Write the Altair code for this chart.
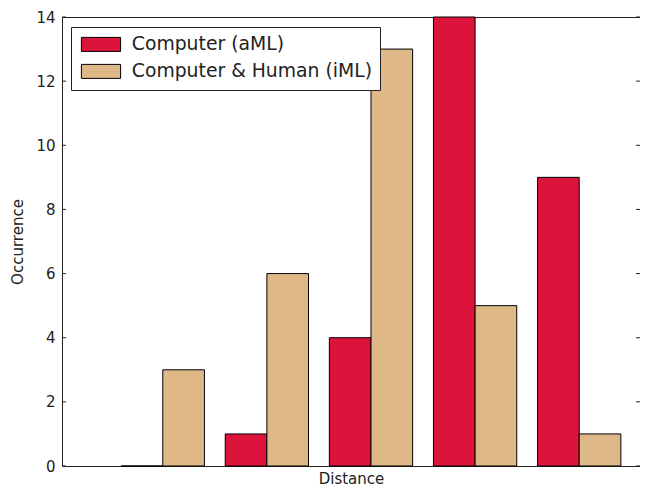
import altair as alt
import pandas as pd

groups = [0, 1, 2, 3, 4]
series_names = ["Computer (aML)", "Computer & Human (iML)"]
aml_values = [0, 1, 4, 14, 9]
iml_values = [3, 6, 13, 5, 1]
y_ticks = [0, 2, 4, 6, 8, 10, 12, 14]
colors = ["#DC143C", "#DEB887"]

rows = []
for g, a, b in zip(groups, aml_values, iml_values):
    rows.append({"group": g, "series": series_names[0], "off": 0, "value": a})
    rows.append({"group": g, "series": series_names[1], "off": 1, "value": b})
df = pd.DataFrame(rows)
df["x0"] = df["group"] * 2.5 + df["off"]
df["x1"] = df["x0"] + 1
ticks_df = pd.DataFrame({"t": y_ticks})

W, H = 578, 449
xscale = alt.Scale(domain=[-1.42, 12.46], nice=False, zero=False)
yscale = alt.Scale(domain=[0, 14], nice=False)
TXT = "#222"

bars = alt.Chart(df).mark_bar(stroke="black", strokeWidth=1, opacity=1).encode(
    x=alt.X("x0:Q", scale=xscale,
            axis=alt.Axis(title="Distance", labels=False, ticks=False, domain=False,
                          grid=False, titleFont="DejaVu Sans", titleFontSize=15,
                          titleFontWeight="normal", titleColor=TXT, titlePadding=5)),
    x2="x1:Q",
    y=alt.Y("value:Q", scale=yscale,
            axis=alt.Axis(title="Occurrence", values=y_ticks, ticks=False, domain=False,
                          grid=False, labelFont="DejaVu Sans", labelFontSize=15,
                          labelColor=TXT, labelPadding=7,
                          titleFont="DejaVu Sans", titleFontSize=15,
                          titleFontWeight="normal", titleColor=TXT, titlePadding=10)),
    y2=alt.datum(0),
    color=alt.Color("series:N", scale=alt.Scale(domain=series_names, range=colors),
                    legend=alt.Legend(title=None, orient="none", legendX=9, legendY=10,
                                      symbolType="M-1,-1h5.6v2h-5.6z", symbolSize=196,
                                      symbolStrokeColor="black", symbolStrokeWidth=1,
                                      symbolOpacity=1, labelOffset=34, labelLimit=400,
                                      labelFont="DejaVu Sans", labelFontSize=18.8,
                                      labelColor=TXT, padding=8, rowPadding=7,
                                      fillColor="white", strokeColor=TXT,
                                      cornerRadius=0)),
)

left_ticks = alt.Chart(ticks_df).mark_rule(color=TXT, strokeWidth=1).encode(
    y=alt.Y("t:Q", scale=yscale), x=alt.value(0), x2=alt.value(4))
right_ticks = alt.Chart(ticks_df).mark_rule(color=TXT, strokeWidth=1).encode(
    y=alt.Y("t:Q", scale=yscale), x=alt.value(W - 4), x2=alt.value(W))

chart = alt.layer(bars, left_ticks, right_ticks).properties(
    width=W, height=H,
    autosize=alt.AutoSizeParams(type="none"),
    padding={"left": 54, "top": 9, "right": 0, "bottom": 22},
).configure_view(stroke=TXT, strokeWidth=1)

chart.save("out.html", embed_options={"renderer": "svg", "actions": False})
